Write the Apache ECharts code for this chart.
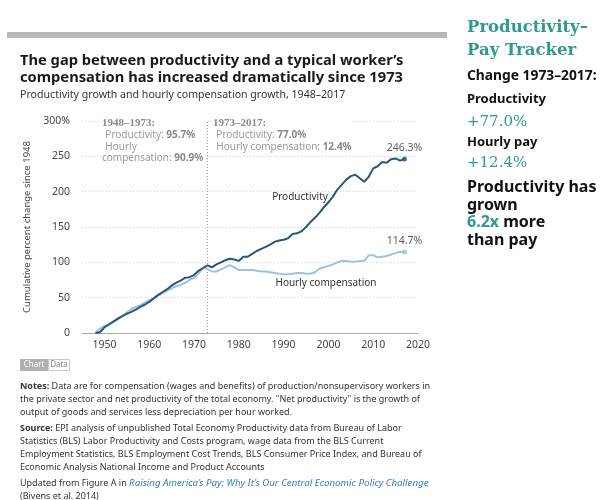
<!DOCTYPE html>
<html><head><meta charset="utf-8">
<script src="https://cdn.jsdelivr.net/npm/echarts@6/dist/echarts.min.js"></script>
<style>html,body{margin:0;padding:0;background:#fff}#c{width:605px;height:500px}</style>
</head><body><div id="c"></div>
<script>
const years = [];
for (let y = 1948; y <= 2017; y++) years.push(y);
const productivity = [0,1,8,12,16,20,24,27,30,33,37,40,44,49,54,58,62,67,71,74,78,79,82,88,92,95.7,93,97,100,103,105,104,102,108,108,112,116,119,122,125,129,131,132,134,140,141,144,150,157,163,170,178,185,193,203,210,217,222,224,219,214,221,233,236,242,241,246,247,244,246.3];
const compensation = [0,6,10,12,16,21,24,29,34,37,39,43,46,49,53,56,60,63,66,68,71,75,78,84,92,90.9,87,87,90,93,96,93,89,89,89,89,88,87,87,86,85,84,83,83,84,85,85,84,84,86,91,93,95,97,100,102,102,101,101,102,102,110,110,107,108,109,111,113,115,114.7];
const yTicks = [0,50,100,150,200,250,300];
const xTickLabels = [1950,1960,1970,1980,1990,2000,2010,2020];
const splitYear = 1973;

const SANS = '"Noto Sans", sans-serif';
const SERIF = '"DejaVu Serif", serif';
const TEAL = '#2f9a8f';
const DARK = '#2b5876';
const LIGHT = '#9fc3de';

const prodPts = years.map((y,i)=>[y, productivity[i]]);
const compPts = years.map((y,i)=>[y, compensation[i]]);
const last = years.length - 1;

const annRich = {
  h:{fontFamily:'"Liberation Serif", serif', fontWeight:'bold', fontSize:11, fill:'#888', lineHeight:10.8},
  n:{fontFamily:SANS, fontSize:10, fill:'#999', lineHeight:10.8},
  b:{fontFamily:SANS, fontSize:10, fontWeight:'bold', fill:'#888', lineHeight:10.8}
};
const noteRich = {
  b:{fontFamily:SANS, fontWeight:'bold', fontSize:9, fill:'#333', lineHeight:13},
  i:{fontFamily:SANS, fontStyle:'italic', fontSize:9.7, fill:'#3a7bbf', lineHeight:13}
};

const chart = echarts.init(document.getElementById('c'), null, {renderer:'canvas'});
chart.setOption({
  animation:false,
  backgroundColor:'#fff',
  grid:{left:82, right:187, top:121, bottom:167},
  xAxis:{type:'value', min:1945, max:2020, interval:5,
    axisLine:{show:true, lineStyle:{color:'#aaa', width:1}},
    axisTick:{show:false}, splitLine:{show:false},
    axisLabel:{color:'#444', fontFamily:SANS, fontSize:10.5, margin:7,
      formatter:v=> xTickLabels.includes(v) ? String(v) : ''}},
  yAxis:{type:'value', min:0, max:300, interval:50,
    name:'Cumulative percent change since 1948', nameLocation:'middle', nameGap:45,
    nameTextStyle:{color:'#444', fontFamily:SANS, fontSize:9.5},
    axisLine:{show:false}, axisTick:{show:false},
    axisLabel:{color:'#444', fontFamily:SANS, fontSize:10.5, margin:12,
      formatter:v=> yTicks.includes(v) ? (v===300 ? v+'%' : String(v)) : ''},
    splitLine:{show:true, lineStyle:{color:'#d0d0d0', type:[1,2], width:1}}},
  series:[
    {type:'line', data:compPts, showSymbol:false, lineStyle:{color:LIGHT, width:2}, z:2,
     markLine:{silent:true, symbol:'none', label:{show:false},
       lineStyle:{color:'#999', type:[1,2], width:1}, data:[{xAxis:splitYear}]}},
    {type:'line', data:prodPts, showSymbol:false, lineStyle:{color:DARK, width:2}, z:3},
    {type:'scatter', data:[prodPts[last]], symbol:'circle', symbolSize:5, itemStyle:{color:DARK}, z:4,
     label:{show:true, position:'top', distance:3, formatter:p=>p.value[1].toFixed(1)+'%', color:'#333', fontFamily:SANS, fontSize:10.5}},
    {type:'scatter', data:[compPts[last]], symbol:'circle', symbolSize:5, itemStyle:{color:LIGHT}, z:4,
     label:{show:true, position:'top', distance:3, formatter:p=>p.value[1].toFixed(1)+'%', color:'#333', fontFamily:SANS, fontSize:10.5}}
  ],
  graphic:[
    {type:'rect', shape:{x:7,y:32,width:440,height:6}, style:{fill:'#b8b8b8'}},
    {type:'text', style:{x:20, y:61, text:'The gap between productivity and a typical worker\u2019s', font:'bold 14.7px '+SANS, fill:'#1a1a1a', textVerticalAlign:'middle'}},
    {type:'text', style:{x:20, y:78, text:'compensation has increased dramatically since 1973', font:'bold 14.7px '+SANS, fill:'#1a1a1a', textVerticalAlign:'middle'}},
    {type:'text', style:{x:20, y:95, text:'Productivity growth and hourly compensation growth, 1948\u20132017', font:'10.6px '+SANS, fill:'#333', textVerticalAlign:'middle'}},
    // annotations
    {type:'text', z:10, style:{x:102, y:118, text:'{h|1948\u20131973:}\n {n|Productivity: }{b|95.7%}\n {n|Hourly}\n{n|compensation: }{b|90.9%}',
      backgroundColor:'#fff', rich:annRich}},
    {type:'text', z:10, style:{x:213, y:118, text:'{h|1973\u20132017:}\n {n|Productivity: }{b|77.0%}\n {n|Hourly compensation: }{b|12.4%}',
      backgroundColor:'#fff', rich:annRich}},
    {type:'text', z:10, style:{x:300, y:197, text:'Productivity', font:'10px '+SANS, fill:'#333', textAlign:'center', textVerticalAlign:'middle'}},
    {type:'text', z:10, style:{x:326, y:283, text:'Hourly compensation', font:'10px '+SANS, fill:'#333', textAlign:'center', textVerticalAlign:'middle'}},
    // Chart/Data buttons
    {type:'rect', shape:{x:20,y:359,width:28,height:12}, style:{fill:'#b0b0b0'}},
    {type:'text', style:{x:34, y:365, text:'Chart', font:'8px '+SANS, fill:'#fff', textAlign:'center', textVerticalAlign:'middle'}},
    {type:'rect', shape:{x:48.5,y:359.5,width:21,height:11}, style:{fill:'#fff', stroke:'#c8c8c8', lineWidth:1}},
    {type:'text', style:{x:59, y:365, text:'Data', font:'8px '+SANS, fill:'#888', textAlign:'center', textVerticalAlign:'middle'}},
    // notes
    {type:'text', style:{x:20, y:379.5, text:
      '{b|Notes:} Data are for compensation (wages and benefits) of production/nonsupervisory workers in\nthe private sector and net productivity of the total economy. "Net productivity" is the growth of\noutput of goods and services less depreciation per hour worked.',
      font:'9px '+SANS, fill:'#333', lineHeight:13, rich:noteRich}},
    {type:'text', style:{x:20, y:421.5, text:
      '{b|Source:} EPI analysis of unpublished Total Economy Productivity data from Bureau of Labor\nStatistics (BLS) Labor Productivity and Costs program, wage data from the BLS Current\nEmployment Statistics, BLS Employment Cost Trends, BLS Consumer Price Index, and Bureau of\nEconomic Analysis National Income and Product Accounts',
      font:'9px '+SANS, fill:'#333', lineHeight:13, rich:noteRich}},
    {type:'text', style:{x:20, y:476.5, text:
      'Updated from Figure A in {i|Raising America\u2019s Pay: Why It\u2019s Our Central Economic Policy Challenge}\n(Bivens et al. 2014)',
      font:'9px '+SANS, fill:'#333', lineHeight:13, rich:noteRich}},
    // right panel
    {type:'text', style:{x:467, y:28, text:'Productivity\u2013', font:'bold 16.5px '+SERIF, fill:TEAL, textVerticalAlign:'middle'}},
    {type:'text', style:{x:467, y:51, text:'Pay Tracker', font:'bold 16.5px '+SERIF, fill:TEAL, textVerticalAlign:'middle'}},
    {type:'text', style:{x:467, y:76, text:'Change 1973\u20132017:', font:'bold 13.8px '+SANS, fill:'#111', textVerticalAlign:'middle'}},
    {type:'text', style:{x:467, y:99, text:'Productivity', font:'bold 13px '+SANS, fill:'#111', textVerticalAlign:'middle'}},
    {type:'text', style:{x:467, y:122, text:'+77.0%', font:'15px '+SERIF, fill:TEAL, textVerticalAlign:'middle'}},
    {type:'text', style:{x:467, y:142, text:'Hourly pay', font:'bold 13px '+SANS, fill:'#111', textVerticalAlign:'middle'}},
    {type:'text', style:{x:467, y:163, text:'+12.4%', font:'15px '+SERIF, fill:TEAL, textVerticalAlign:'middle'}},
    {type:'text', style:{x:467, y:178.5, text:'Productivity has\ngrown\n{t|6.2x} more\nthan pay', font:'bold 16px '+SANS, fill:'#111', lineHeight:17.7,
      rich:{t:{fontFamily:SANS, fontWeight:'bold', fontSize:16, fill:TEAL, lineHeight:17.7}}}}
  ]
});
</script></body></html>
